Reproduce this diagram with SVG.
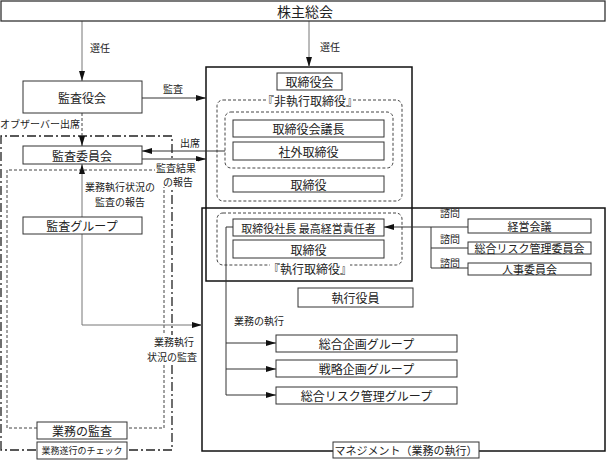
<svg xmlns="http://www.w3.org/2000/svg" width="607" height="461" viewBox="0 0 607 461">
<style>
text{font-family:"Noto Sans CJK JP","Noto Sans CJK SC",sans-serif;fill:#222;text-anchor:middle;dominant-baseline:central}
.b{fill:#fff;stroke:#333;stroke-width:1}
.big{fill:none;stroke:#111;stroke-width:1.5}
.c{fill:none;stroke:#333;stroke-width:1}
.g{fill:none;stroke:#777;stroke-width:1}
.dash{fill:none;stroke:#444;stroke-width:1;stroke-dasharray:3 2}
.dd{fill:none;stroke:#222;stroke-width:1.3;stroke-dasharray:9 3 2 3}
.m{font-size:12px}
.s{font-size:10px}
.w{fill:#fff}
</style>
<defs>
<marker id="ar" viewBox="0 0 10 6" refX="10" refY="3" markerWidth="10" markerHeight="6" markerUnits="userSpaceOnUse" orient="auto">
<path d="M0,0 L10,3 L0,6 Z" fill="#111"/>
</marker>
</defs>

<!-- region outlines -->
<path class="dd" d="M1,450 V136 H172 V450 Z"/>
<path class="dash" d="M7,428 V170 H164 V428 Z"/>
<rect class="big" x="202" y="208" width="403" height="243"/>
<rect class="big" x="206" y="67" width="206" height="214"/>
<rect class="dash" x="217" y="100" width="185" height="101" rx="6"/>
<rect class="dash" x="225" y="112" width="168" height="56" rx="6"/>
<rect class="dash" x="217" y="213" width="185" height="52" rx="6"/>

<g id="connectors">
<line class="g" x1="82" y1="21" x2="82" y2="81" marker-end="url(#ar)"/>
<line class="g" x1="309" y1="21" x2="309" y2="67" marker-end="url(#ar)"/>
<line class="c" x1="142" y1="98" x2="206" y2="98" marker-end="url(#ar)"/>
<line class="dash" x1="82" y1="113" x2="82" y2="146" marker-end="url(#ar)"/>
<line class="c" x1="225" y1="151" x2="142" y2="151" marker-end="url(#ar)"/>
<line class="c" x1="142" y1="159" x2="206" y2="159" marker-end="url(#ar)"/>
<line class="g" x1="82" y1="217" x2="82" y2="164" marker-end="url(#ar)"/>
<polyline class="g" points="82,234 82,325 202,325" marker-end="url(#ar)"/>
<polyline class="c" points="233,227 226,227 226,395"/>
<line class="c" x1="226" y1="343" x2="276" y2="343" marker-end="url(#ar)"/>
<line class="c" x1="226" y1="369" x2="276" y2="369" marker-end="url(#ar)"/>
<line class="c" x1="226" y1="395" x2="276" y2="395" marker-end="url(#ar)"/>
<line class="c" x1="468" y1="227" x2="384" y2="227" marker-end="url(#ar)"/>
<polyline class="c" points="431,227 431,268 468,268"/>
<line class="c" x1="431" y1="248" x2="468" y2="248"/>
</g>

<!-- labels -->
<text class="s" x="100" y="47">選任</text>
<text class="s" x="330" y="46">選任</text>
<text class="s" x="173" y="88">監査</text>
<text class="s" x="40" y="123">オブザーバー出席</text>
<text class="s" x="190" y="142">出席</text>
<g id="kekka-label"><rect class="w" x="155" y="161" width="43" height="26"/><text class="s" x="176" y="167">監査結果</text><text class="s" x="178" y="181">の報告</text></g>
<text class="s" x="120" y="186">業務執行状況の</text>
<text class="s" x="120" y="201">監査の報告</text>
<g id="jokyo-label"><rect class="w" x="149" y="335" width="49" height="28"/><text class="s" x="174" y="341">業務執行</text><text class="s" x="172" y="356">状況の監査</text></g>
<text class="s" x="259" y="320">業務の執行</text>
<text class="s" x="450" y="212">諮問</text>
<text class="s" x="450" y="238">諮問</text>
<text class="s" x="450" y="262">諮問</text>

<g id="shareholders"><rect class="b" x="1" y="1" width="604" height="20" style="stroke-width:1.3"/><text x="305" y="11" font-size="14">株主総会</text></g>
<g id="kansayakukai"><rect class="b" x="23" y="81" width="119" height="32"/><text class="m" x="82" y="97">監査役会</text></g>
<g id="kansaiinkai"><rect class="b" x="23" y="146" width="119" height="18"/><text class="m" x="82" y="155">監査委員会</text></g>
<g id="kansagroup"><rect class="b" x="23" y="217" width="119" height="17"/><text class="m" x="82" y="225.5">監査グループ</text></g>
<g id="gyomukansa"><rect class="b" x="37" y="422" width="90" height="17"/><text class="m" x="82" y="430.5">業務の監査</text></g>
<g id="gyomucheck"><rect class="b" x="37" y="442" width="90" height="17"/><text x="82" y="450.5" font-size="9px">業務遂行のチェック</text></g>

<g id="torishimariyakukai"><rect class="b" x="277" y="73" width="65" height="17"/><text class="m" x="309.5" y="81.5">取締役会</text></g>
<g id="hishikko-label"><rect class="w" x="268" y="94" width="84" height="12"/><text class="m" x="310" y="100">『非執行取締役』</text></g>
<g id="gicho"><rect class="b" x="233" y="120" width="151" height="17"/><text class="m" x="308.5" y="128.5">取締役会議長</text></g>
<g id="shagai"><rect class="b" x="233" y="142" width="151" height="18"/><text class="m" x="308.5" y="151">社外取締役</text></g>
<g id="torishimariyaku1"><rect class="b" x="233" y="176" width="151" height="16"/><text class="m" x="308.5" y="184">取締役</text></g>
<g id="shacho"><rect class="b" x="233" y="219" width="151" height="17"/><text x="308.5" y="227.5" font-size="11px">取締役社長 最高経営責任者</text></g>
<g id="torishimariyaku2"><rect class="b" x="233" y="240" width="151" height="18"/><text class="m" x="308.5" y="249">取締役</text></g>
<g id="shikko-label"><rect class="w" x="270" y="262" width="80" height="12"/><text class="m" x="310" y="268">『執行取締役』</text></g>

<g id="shikkoyakuin"><rect class="b" x="298" y="288" width="115" height="19"/><text class="m" x="355.5" y="297.5">執行役員</text></g>
<g id="sogokikaku"><rect class="b" x="276" y="335" width="181" height="17"/><text class="m" x="366.5" y="343.5">総合企画グループ</text></g>
<g id="senryaku"><rect class="b" x="276" y="360" width="181" height="17"/><text class="m" x="366.5" y="368.5">戦略企画グループ</text></g>
<g id="sogorisk"><rect class="b" x="276" y="387" width="181" height="17"/><text class="m" x="366.5" y="395.5">総合リスク管理グループ</text></g>

<g id="keieikaigi"><rect class="b" x="468" y="219" width="123" height="14"/><text x="529.5" y="226" font-size="11px">経営会議</text></g>
<g id="riskiinkai"><rect class="b" x="468" y="242" width="123" height="12"/><text x="529.5" y="248" font-size="11px">総合リスク管理委員会</text></g>
<g id="jinji"><rect class="b" x="468" y="263" width="123" height="12"/><text x="529.5" y="269" font-size="11px">人事委員会</text></g>

<g id="management"><rect class="b" x="333" y="442" width="146" height="16"/><text x="406" y="450" font-size="11px">マネジメント（業務の執行）</text></g>
</svg>
